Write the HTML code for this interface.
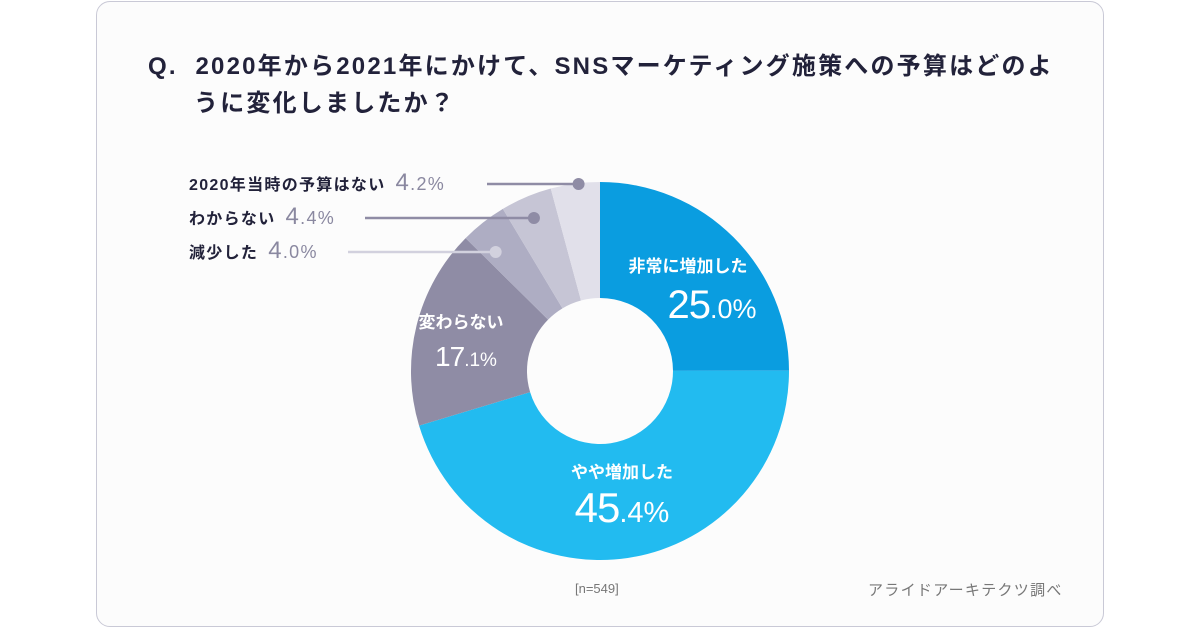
<!DOCTYPE html>
<html><head><meta charset="utf-8"><style>
body{margin:0;width:1200px;height:630px;background:#fff;overflow:hidden;font-family:"Liberation Sans","Noto Sans CJK JP",sans-serif}
.card{position:absolute;left:96px;top:1px;width:1008px;height:626px;border:1.5px solid #c9c9d6;border-radius:14px;background:#fcfcfc;box-sizing:border-box}
.t{position:absolute;color:#22223a;font-weight:bold}
</style></head><body>
<div class="card"></div>
<div class="t" style="left:148px;top:48px;font-size:24px;letter-spacing:2.2px;line-height:37px;width:950px;white-space:nowrap">Q.&nbsp; 2020年から2021年にかけて、SNSマーケティング施策への予算はどのよ<br><span style="padding-left:46px">うに変化しましたか？</span></div>
<svg id="c" width="1200" height="630" style="position:absolute;left:0;top:0"></svg>
<div style="position:absolute;left:575px;top:581px;font-size:13px;color:#777">[n=549]</div>
<div style="position:absolute;left:868px;top:579px;font-size:15px;letter-spacing:1.3px;color:#777">アライドアーキテクツ調べ</div>
<script>
const categories=["非常に増加した","やや増加した","変わらない","減少した","わからない","2020年当時の予算はない"];
const values=[25.0,45.4,17.1,4.0,4.4,4.2];
const labels=["25.0","45.4","17.1","4.0","4.4","4.2"];
const colors=["#0a9de0","#22bbf0","#8f8ca5","#aeadc3","#c6c5d5","#e1e0ea"];
const NS="http://www.w3.org/2000/svg",svg=document.getElementById('c');
const cx=600,cy=371,R=189,r=73;
const total=values.reduce((a,b)=>a+b,0);
function pt(a,rad){return [cx+rad*Math.sin(a),cy-rad*Math.cos(a)];}
function mk(t,at,txt){const e=document.createElementNS(NS,t);for(const k in at)e.setAttribute(k,at[k]);if(txt!=null)e.textContent=txt;svg.appendChild(e);return e;}
let acc=0;const mids=[];
values.forEach((v,i)=>{
 const a0=acc/total*2*Math.PI;acc+=v;const a1=acc/total*2*Math.PI;
 const [x0,y0]=pt(a0,R),[x1,y1]=pt(a1,R),[x2,y2]=pt(a1,r),[x3,y3]=pt(a0,r);
 const lg=(a1-a0)>Math.PI?1:0;
 const p=mk('path',{d:`M${x0},${y0}A${R},${R} 0 ${lg} 1 ${x1},${y1}L${x2},${y2}A${r},${r} 0 ${lg} 0 ${x3},${y3}Z`,fill:colors[i]});
 
 
 mids.push((a0+a1)/2);
});
const inside=[[0,688,272,712,318],[1,622,478,622,522],[2,461,328,466,366]];
const bigSize=[40,42,28];
inside.forEach(([i,lx,ly,vx,vy],k)=>{
 const c=mk('text',{x:lx,y:ly,'text-anchor':'middle','font-size':17,'font-weight':'bold',fill:'#fff'},categories[i]);
 
 
 const [a,b]=labels[i].split('.');
 const t=mk('text',{x:vx,y:vy,'text-anchor':'middle',fill:'#fff','font-size':bigSize[k],'letter-spacing':-1});
 
 
 t.innerHTML=`${a}<tspan font-size="${Math.round(bigSize[k]*0.68)}" letter-spacing="0">.${b}%</tspan>`;
});
const outside=[[5,184,487,"#8f8ca5",-26],[4,218,365,"#8f8ca5",-20],[3,252,348,"#d2d1de",-20]];
outside.forEach(([i,y,lx,lc,off])=>{
 const ang=mids[i];const [dx]=pt(ang,R+off);
 const l=mk('line',{x1:lx,y1:y,x2:dx,y2:y,stroke:lc,'stroke-width':2.5});
 
 
 const d=mk('circle',{cx:dx,cy:y,r:6,fill:lc});
 
 
 const t=mk('text',{x:189,y:y+6,'font-size':16,'font-weight':'bold','letter-spacing':1.3,fill:'#22223a'});
 
 
 const [a,b]=labels[i].split('.');
 t.innerHTML=`${categories[i]}<tspan dx="10" font-size="24" font-weight="normal" fill="#8a88a0">${a}</tspan><tspan font-size="18" font-weight="normal" fill="#8a88a0">.${b}%</tspan>`;
});
</script>
</body></html>
